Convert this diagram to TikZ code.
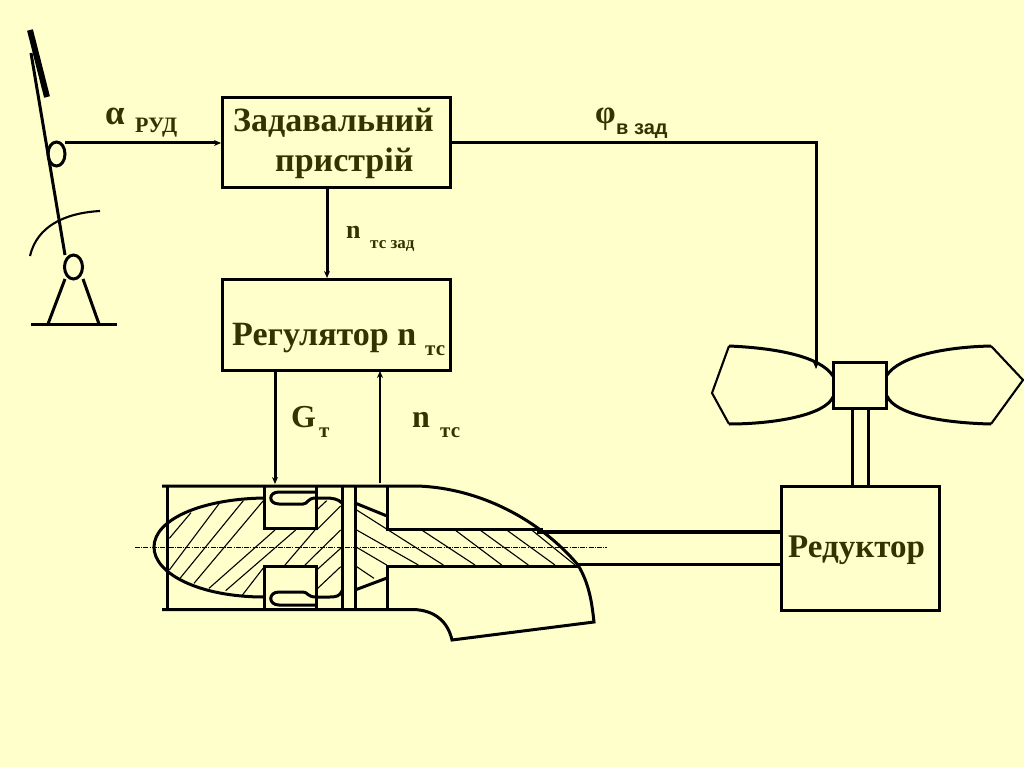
\documentclass[tikz,border=0pt]{standalone}
\usepackage{fontspec}
\setmainfont{Liberation Serif}
\newfontfamily\sanslab{Liberation Sans}
\usetikzlibrary{arrows.meta,shapes.geometric}
\definecolor{bgc}{HTML}{FFFFCC}
\definecolor{txt}{HTML}{333300}
\tikzset{
  x=1pt,y=-1pt,
  ln/.style={line width=3pt,black},
  midln/.style={line width=3pt,black},
  thinln/.style={line width=2.1pt,black},
  hatch/.style={line width=1.1pt,black},
  boxn/.style={draw=black,line width=3pt,inner sep=0pt,anchor=north west},
  pivot/.style={draw=black,line width=3pt,ellipse,inner sep=0pt,minimum height=24pt},
  lab/.style={text=txt,inner sep=0pt,anchor=base west},
  arr/.style={-{Stealth[length=7pt,width=6pt]}},
}
\begin{document}
\begin{tikzpicture}
\useasboundingbox (0,0) rectangle (1024,767);
\fill[bgc] (0,0) rectangle (1024,767);
% boxes
\node[boxn,minimum width=228pt,minimum height=90pt] (zad) at (220.5,96.5) {};
\node[boxn,minimum width=228pt,minimum height=91pt] (reg) at (220.5,277.5) {};
\node[boxn,minimum width=158pt,minimum height=124pt] (red) at (779.5,484.5) {};
\node[boxn,minimum width=53pt,minimum height=46pt] (hub) at (832,360.5) {};
% box text
\node[lab,font=\bfseries\fontsize{34}{34}\selectfont] (t1) at (233,132) {Задавальний};
\node[lab,font=\bfseries\fontsize{34}{34}\selectfont] (t2) at (275,172) {пристрій};
\node[lab,font=\bfseries\fontsize{34}{34}\selectfont] (t3) at (232,345) {Регулятор n};
\node[lab,font=\bfseries\fontsize{21}{21}\selectfont] (t3b) at (425,355) {тс};
\node[lab,font=\bfseries\fontsize{33}{33}\selectfont] (t4) at (788,557) {Редуктор};
% lever
\coordinate (lt) at (31,53);
\coordinate (lb) at (65,255);
\draw[line width=6pt] (30,30) -- (47,97);
\draw[ln] (lt) -- (lb);
\node[pivot,minimum width=17pt] (p1) at (56.5,154) {};
\node[pivot,minimum width=18pt] (p2) at (73.5,267) {};
\draw[thinln] (30,256) .. controls (37,226) and (65,213) .. (100,211);
\coordinate (b1) at (31,324);
\coordinate (b2) at (117,324);
\draw[ln] (b1) -- (b2);
\coordinate (l1) at (65,279);
\coordinate (l2) at (83,279);
\draw[ln] (l1) -- (48,324);
\draw[ln] (l2) -- (99,324);
% connectors
\coordinate (from1) at (65,143);
\coordinate (z1) at (221,143);
\draw[midln,arr] (from1) -- (z1);
\coordinate (z2) at (451,143);
\coordinate (c1) at (816,143);
\coordinate (c2) at (816,369);
\draw[ln,arr] (z2) -- (c1) -- (c2);
\coordinate (z3) at (327,189);
\coordinate (r3) at (327,278);
\draw[midln,arr] (z3) -- (r3);
\coordinate (r4) at (275,371);
\coordinate (e4) at (275,484);
\draw[midln,arr] (r4) -- (e4);
\coordinate (e5) at (380,483);
\coordinate (r5) at (380,371);
\draw[thinln,arr] (e5) -- (r5);
% labels
\node[lab,font=\fontsize{35}{35}\selectfont\bfseries] (la) at (105,125) {α};
\node[lab,font=\bfseries\fontsize{22}{22}\selectfont] (lb1) at (135,133) {РУД};
\node[lab,font=\bfseries\fontsize{33}{33}\selectfont] (lc) at (595,124) {φ};
\node[lab,font=\sanslab\bfseries\fontsize{20}{20}\selectfont] (lc2) at (616,135) {в зад};
\node[lab,font=\bfseries\fontsize{26}{26}\selectfont] (ld) at (346,238) {n};
\node[lab,font=\bfseries\fontsize{17}{17}\selectfont] (ld2) at (370,248) {тс зад};
\node[lab,font=\bfseries\fontsize{32}{32}\selectfont] (le) at (291,427) {G};
\node[lab,font=\bfseries\fontsize{21}{21}\selectfont] (le2) at (319,437) {т};
\node[lab,font=\bfseries\fontsize{32}{32}\selectfont] (lf) at (412,427) {n};
\node[lab,font=\bfseries\fontsize{21}{21}\selectfont] (lf2) at (440,437) {тс};
% propeller
\draw[ln] (729,346) .. controls (775,348) and (820,356) .. (833,376);
\draw[ln] (729,424) .. controls (775,424) and (825,415) .. (833,397);
\draw[thinln] (729,346) -- (712,393) -- (729,424);
\draw[ln] (991,346) .. controls (945,347) and (900,356) .. (887,375);
\draw[ln] (991,424) .. controls (945,423) and (895,415) .. (887,396);
\draw[thinln] (991,346) -- (1023,380) -- (991,424);
\coordinate (h1) at (852,409);
\coordinate (h2) at (868.5,409);
\draw[ln] (h1) -- (852,486);
\draw[ln] (h2) -- (868.5,486);
% turbine outline
\draw[ln] (162,486) -- (417,486) .. controls (480,488) and (540,520) .. (578,565) .. controls (590,585) and (592,605) .. (594,622) -- (452,640) .. controls (448,622) and (435,610) .. (413,609.5) -- (162,609.5);
\draw[ln] (167.5,486) -- (167.5,609.5);
% body curve
\draw[ln] (264,498) .. controls (200,499) and (154,520) .. (154,547) .. controls (154,574) and (200,597) .. (264,597);
% nozzle blocks
\draw[ln] (264,486) -- (264,528) -- (316,528) -- (316,486);
\draw[ln] (264,609.5) -- (264,566) -- (316,566) -- (316,609.5);
\draw[ln] (315,492) -- (279,492) .. controls (268,492) and (268,504) .. (279,504) -- (303,504) .. controls (308,504) and (307,498) .. (316,498) -- (325,498) .. controls (333,498) and (338,499) .. (342,503);
\draw[ln] (315,605) -- (279,605) .. controls (268,605) and (268,592) .. (279,592) -- (303,592) .. controls (308,592) and (307,597) .. (316,597) -- (330,597) .. controls (336,597) and (340,596) .. (342,591);
% disks
\draw[ln] (342,486) -- (342,609.5);
\draw[ln] (355,486) -- (355,609.5);
\draw[ln] (387,486) -- (387,529) -- (543,529);
\draw[ln] (387,609.5) -- (387,566) -- (578,566);
\draw[ln] (355,503) -- (387,516);
\draw[ln] (355,590) -- (387,578);
% long shaft
\draw[line width=3.2pt] (537,532) -- (781,532);
\draw[ln] (578,564) -- (781,564);
% hatching
\foreach \a/\b/\c/\d in {
 118/205/183/128, 118/300/268/100, 150/325/340/92, 192/340/400/92,
 237/355/435/180, 287/362/497/180, 335/378/403/290, 465/285/555/180,
 525/285/632/180, 560/300/632/235, 560/358/632/290, 560/120/590/92, 560/180/632/108,
 680/120/940/285, 680/180/865/285, 875/180/1035/285, 975/180/1115/285,
 1050/180/1195/285, 1130/180/1275/285, 1205/180/1335/285, 680/232/770/285, 680/290/732/325}
 {\draw[hatch] ({130+\a/3},{470+\b/3}) -- ({130+\c/3},{470+\d/3});}
% centre line
\coordinate (cl1) at (135,547.5);
\coordinate (cl2) at (607,547.5);
\draw[line width=0.6pt,dash pattern=on 5pt off 1.2pt on 1pt off 1.2pt] (cl1) -- (cl2);
\end{tikzpicture}
\end{document}
